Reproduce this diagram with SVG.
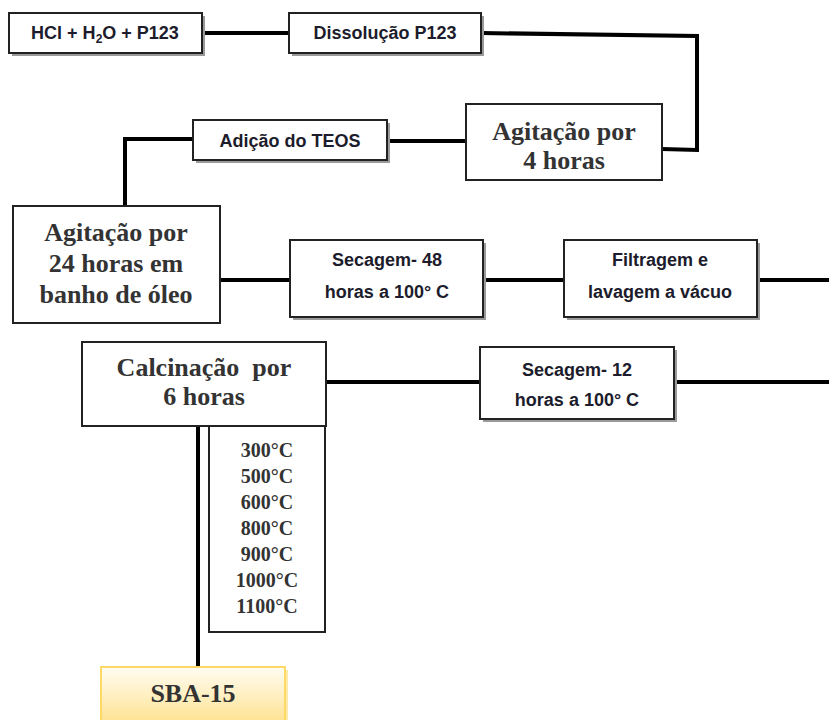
<svg xmlns="http://www.w3.org/2000/svg" width="829" height="720" viewBox="0 0 829 720">
<defs>
<linearGradient id="gold" x1="0" y1="0" x2="0" y2="1">
<stop offset="0" stop-color="#fffdf3"/>
<stop offset="1" stop-color="#ffe08a"/>
</linearGradient>
</defs>
<style>
.box{fill:#fff;stroke:#222;stroke-width:2}
.sh{fill:#9a9a9a}
.cal{font-family:"Liberation Sans",Arial,sans-serif;font-weight:bold;font-size:18px;fill:#1c1c2c;text-anchor:middle}
.ser{font-family:"Liberation Serif","Times New Roman",serif;font-weight:bold;font-size:26px;fill:#333;text-anchor:middle}
.tmp{font-family:"Liberation Serif","Times New Roman",serif;font-weight:bold;font-size:20px;fill:#333;text-anchor:middle}
.con{fill:none;stroke:#000;stroke-width:4}
</style>
<rect width="829" height="720" fill="#fff"/>
<g id="connectors">
<line class="con" x1="202" y1="33" x2="290" y2="33" stroke-width="3"/>
<polyline class="con" points="481,33 697,36 697,150 662,149" stroke-width="5"/>
<line class="con" x1="387" y1="141" x2="466" y2="141"/>
<polyline class="con" points="193,139 125,139 125,207"/>
<line class="con" x1="220" y1="280" x2="290" y2="280"/>
<line class="con" x1="483" y1="280" x2="564" y2="280"/>
<line class="con" x1="757" y1="280" x2="829" y2="280"/>
<line class="con" x1="326" y1="382" x2="480" y2="382"/>
<line class="con" x1="674" y1="382" x2="829" y2="382"/>
<line class="con" x1="198" y1="426" x2="198" y2="668" stroke-width="5"/>
</g>
<g id="n1">
<rect class="sh" x="12" y="16" width="193" height="40"/>
<rect class="box" x="9" y="13" width="193" height="40"/>
<text class="cal" x="105" y="39">HCl + H<tspan font-size="12" dy="4">2</tspan><tspan dy="-4">O + P123</tspan></text>
</g>
<g id="n2">
<rect class="sh" x="292" y="16" width="192" height="40"/>
<rect class="box" x="289" y="13" width="192" height="40"/>
<text class="cal" x="385" y="39">Dissolução P123</text>
</g>
<g id="n3">
<rect class="box" x="466" y="104" width="196" height="76"/>
<text class="ser" x="564" y="140">Agitação por</text>
<text class="ser" x="564" y="169">4 horas</text>
</g>
<g id="n4">
<rect class="sh" x="196" y="123" width="194" height="40"/>
<rect class="box" x="193" y="120" width="194" height="40"/>
<text class="cal" x="290" y="147">Adição do TEOS</text>
</g>
<g id="n5">
<rect class="box" x="13" y="206" width="207" height="117"/>
<text class="ser" x="116" y="241">Agitação por</text>
<text class="ser" x="116" y="272">24 horas em</text>
<text class="ser" x="116" y="303">banho de óleo</text>
</g>
<g id="n6">
<rect class="sh" x="293" y="243" width="193" height="77"/>
<rect class="box" x="290" y="240" width="193" height="77"/>
<text class="cal" x="387" y="266">Secagem- 48</text>
<text class="cal" x="387" y="298">horas a 100° C</text>
</g>
<g id="n7">
<rect class="sh" x="567" y="243" width="193" height="77"/>
<rect class="box" x="564" y="240" width="193" height="77"/>
<text class="cal" x="660" y="266">Filtragem e</text>
<text class="cal" x="660" y="298">lavagem a vácuo</text>
</g>
<g id="n8">
<rect class="sh" x="483" y="350" width="194" height="72"/>
<rect class="box" x="480" y="347" width="194" height="72"/>
<text class="cal" x="577" y="376">Secagem- 12</text>
<text class="cal" x="577" y="406">horas a 100° C</text>
</g>
<g id="n9">
<rect class="box" x="82" y="342" width="244" height="84"/>
<text class="ser" x="204" y="376" xml:space="preserve">Calcinação  por</text>
<text class="ser" x="204" y="405">6 horas</text>
</g>
<g id="n10">
<rect class="box" x="209" y="426" width="116" height="206"/>
<text class="tmp" x="267" y="457">300°C</text>
<text class="tmp" x="267" y="483">500°C</text>
<text class="tmp" x="267" y="509">600°C</text>
<text class="tmp" x="267" y="535">800°C</text>
<text class="tmp" x="267" y="561">900°C</text>
<text class="tmp" x="267" y="587">1000°C</text>
<text class="tmp" x="267" y="613">1100°C</text>
</g>
<g id="n11">
<rect x="104" y="670" width="184" height="60" fill="#ffe9a8"/>
<rect x="101" y="667" width="184" height="60" fill="url(#gold)" stroke="#ffd966" stroke-width="2"/>
<text class="ser" x="193" y="702">SBA-15</text>
</g>
</svg>
